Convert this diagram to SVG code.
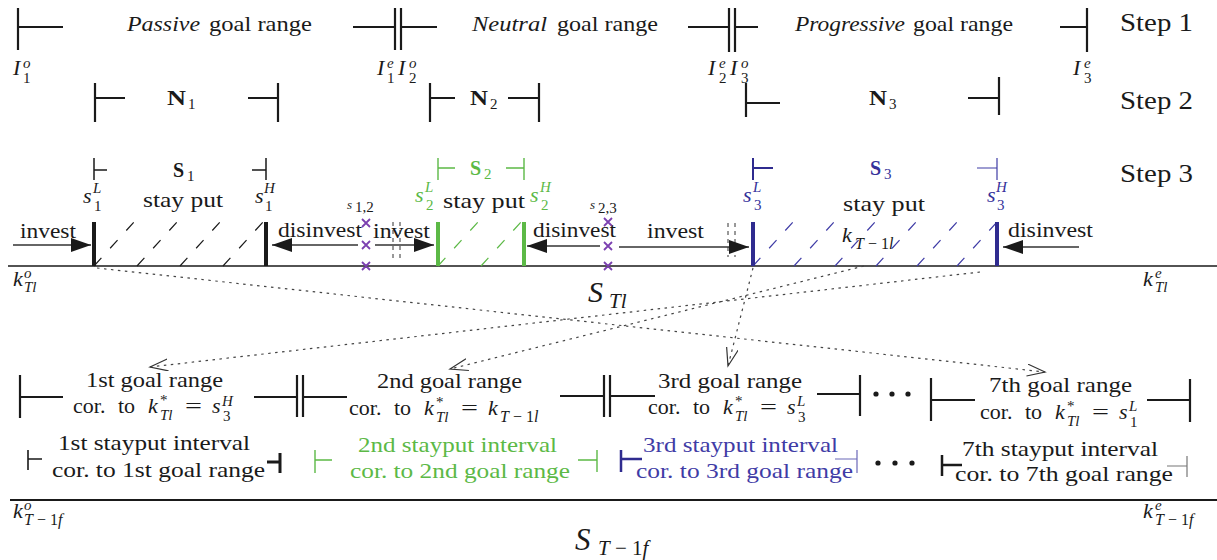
<svg xmlns="http://www.w3.org/2000/svg" width="1217" height="560" viewBox="0 0 1217 560" font-family="Liberation Serif">
<defs>
<style>
.lbl { font-family:"Liberation Serif", serif; font-size:22px; fill:#1a1a1a; }
.stp { font-family:"Liberation Serif", serif; font-size:26px; fill:#1a1a1a; }
.mi { font-style:italic; }
.scr { font-family:"Liberation Serif", serif; font-size:15px; }
.bld { font-family:"Liberation Serif", serif; font-weight:bold; font-size:20px; }
.grn { fill:#5cb946; }
.blu { fill:#35319a; }
.blt { fill:#3f3ca6; }
.brk { stroke:#1a1a1a; stroke-width:2.2; fill:none; }
.thin { stroke:#1a1a1a; stroke-width:1.5; fill:none; }
.brg { stroke:#5cb946; stroke-width:1.4; fill:none; }
.brb { stroke:#2f2b8f; stroke-width:2; fill:none; }
.bar { stroke-width:4; }
.hk { stroke:#1a1a1a; stroke-width:1.2; stroke-dasharray:11 13; }
.hg { stroke:#5cb946; stroke-width:1.2; stroke-dasharray:11 13; }
.hb { stroke:#3f3ca6; stroke-width:1.2; stroke-dasharray:11 13; }
.arr { stroke:#333; stroke-width:1.3; fill:none; marker-end:url(#ah); }
.dot { stroke:#444; stroke-width:1.2; stroke-dasharray:2.5 4.5; fill:none; marker-end:url(#oh); }
.xm { stroke:#7b40b0; stroke-width:1.8; }
.dbox { stroke:#333; stroke-width:1; stroke-dasharray:4 4; }
</style>
<marker id="ah" markerUnits="userSpaceOnUse" markerWidth="22" markerHeight="16" refX="20" refY="7" orient="auto"><path d="M0,0 L20,7 L0,14 z" fill="#1a1a1a"/></marker>
<marker id="oh" markerUnits="userSpaceOnUse" markerWidth="20" markerHeight="14" refX="18" refY="6" orient="auto"><path d="M0,0 L18,6 L0,12" fill="none" stroke="#333" stroke-width="1.2"/></marker>
</defs>

<g font-family="Liberation Serif" fill="#1a1a1a">
<!-- Step 1 -->
<g id="step1">
<path class="brk" d="M18,8 V50 M18,27 H63"/>
<text class="lbl mi" x="127" y="31" textLength="73" lengthAdjust="spacingAndGlyphs">Passive</text>
<text class="lbl" x="209" y="31" textLength="103" lengthAdjust="spacingAndGlyphs">goal range</text>
<path class="brk" d="M353,27 H395 M395,8 V50 M401,8 V50 M401,27 H437"/>
<text class="lbl mi" x="472" y="31" textLength="75" lengthAdjust="spacingAndGlyphs">Neutral</text>
<text class="lbl" x="557" y="31" textLength="101" lengthAdjust="spacingAndGlyphs">goal range</text>
<path class="brk" d="M688,27 H729 M729,8 V52 M735,8 V52 M735,27 H758"/>
<text class="lbl mi" x="795" y="31" textLength="110" lengthAdjust="spacingAndGlyphs">Progressive</text>
<text class="lbl" x="913" y="31" textLength="100" lengthAdjust="spacingAndGlyphs">goal range</text>
<path class="brk" d="M1060,27 H1087 M1087,8 V52"/>
<text class="lbl mi" x="13" y="75">I</text><text class="scr mi" x="23" y="68">o</text><text class="scr" x="23" y="83">1</text>
<text class="lbl mi" x="377" y="75">I</text><text class="scr mi" x="387" y="68">e</text><text class="scr" x="387" y="83">1</text>
<text class="lbl mi" x="398" y="75">I</text><text class="scr mi" x="409" y="68">o</text><text class="scr" x="409" y="83">2</text>
<text class="lbl mi" x="708" y="75">I</text><text class="scr mi" x="719" y="68">e</text><text class="scr" x="719" y="83">2</text>
<text class="lbl mi" x="730" y="75">I</text><text class="scr mi" x="741" y="68">o</text><text class="scr" x="741" y="83">3</text>
<text class="lbl mi" x="1073" y="75">I</text><text class="scr mi" x="1084" y="68">e</text><text class="scr" x="1084" y="83">3</text>
<text class="stp" x="1120" y="31" textLength="73" lengthAdjust="spacingAndGlyphs">Step 1</text>
</g>

<!-- Step 2 -->
<g id="step2">
<path class="brk" d="M95,83 V122 M95,98 H125 M248,98 H278 M278,83 V122"/>
<text class="bld" x="167" y="105" textLength="19" lengthAdjust="spacingAndGlyphs">N</text><text class="scr" x="188" y="109">1</text>
<path class="brk" d="M430,83 V122 M430,98 H455 M508,98 H539 M539,83 V122"/>
<text class="bld" x="470" y="105" textLength="18" lengthAdjust="spacingAndGlyphs">N</text><text class="scr" x="490" y="109">2</text>
<path class="brk" d="M746,83 V117 M746,103 H780 M968,98 H999 M999,77 V115"/>
<text class="bld" x="869" y="105" textLength="18" lengthAdjust="spacingAndGlyphs">N</text><text class="scr" x="889" y="109">3</text>
<text class="stp" x="1120" y="109" textLength="73" lengthAdjust="spacingAndGlyphs">Step 2</text>
</g>

<!-- Step 3 -->
<g id="step3">
<path class="thin" d="M94,158 V180 M94,170 H107 M252,170 H266 M266,158 V180"/>
<text class="bld" x="173" y="177">S</text><text class="scr" x="187" y="181">1</text>
<text class="lbl mi" x="83" y="203">s</text><text class="scr mi" x="93" y="193">L</text><text class="scr" x="94" y="211">1</text>
<text class="lbl" x="143" y="207" textLength="80" lengthAdjust="spacingAndGlyphs">stay put</text>
<text class="lbl mi" x="255" y="203">s</text><text class="scr mi" x="264" y="193">H</text><text class="scr" x="265" y="211">1</text>

<path class="brg" d="M438,158 V180 M438,168 H455 M506,168 H524 M524,158 V180"/>
<text class="bld grn" x="470" y="175">S</text><text class="scr grn" x="484" y="179">2</text>
<text class="lbl mi grn" x="415" y="202">s</text><text class="scr mi grn" x="425" y="192">L</text><text class="scr grn" x="426" y="210">2</text>
<text class="lbl" x="443" y="208" textLength="82" lengthAdjust="spacingAndGlyphs">stay put</text>
<text class="lbl mi grn" x="530" y="202">s</text><text class="scr mi grn" x="540" y="192">H</text><text class="scr grn" x="541" y="210">2</text>

<path class="brb" d="M753,158 V180 M753,168 H773"/>
<path stroke="#3f3ca6" stroke-width="1.2" fill="none" d="M977,168 H997 M997,158 V180"/>
<text class="bld blu" x="870" y="175">S</text><text class="scr blu" x="884" y="179">3</text>
<text class="lbl mi blu" x="743" y="202">s</text><text class="scr mi blu" x="753" y="192">L</text><text class="scr blu" x="754" y="210">3</text>
<text class="lbl" x="843" y="211" textLength="82" lengthAdjust="spacingAndGlyphs">stay put</text>
<text class="lbl mi blu" x="987" y="202">s</text><text class="scr mi blu" x="996" y="192">H</text><text class="scr blu" x="997" y="210">3</text>
<text class="stp" x="1120" y="182" textLength="73" lengthAdjust="spacingAndGlyphs">Step 3</text>
</g>

<!-- S_Tl axis -->
<g id="axisTl">
<line x1="8" y1="266" x2="1217" y2="266" stroke="#1a1a1a" stroke-width="1.4"/>
<path class="hk" d="M94,266 L134,222 M137,266 L177,222 M180,266 L220,222 M223,266 L263,222"/>
<path class="hg" d="M438,266 L478,222 M481,266 L521,222"/>
<path class="hb" d="M753,266 L793,222 M794,266 L834,222 M835,266 L875,222 M876,266 L916,222 M917,266 L957,222 M957,266 L997,222"/>
<line x1="94" y1="222" x2="94" y2="266" stroke="#1a1a1a" class="bar"/>
<line x1="266" y1="222" x2="266" y2="266" stroke="#1a1a1a" class="bar"/>
<line x1="438" y1="222" x2="438" y2="266" stroke="#5cb946" class="bar"/>
<line x1="524" y1="222" x2="524" y2="266" stroke="#5cb946" class="bar"/>
<line x1="753" y1="222" x2="753" y2="266" stroke="#2f2b8f" class="bar"/>
<line x1="997" y1="222" x2="997" y2="266" stroke="#2f2b8f" class="bar"/>
<path class="dbox" d="M393,222 V258 M400,222 V258 M728,223 V257 M735,223 V257"/>
<path class="xm" d="M362,219 l8,8 m0,-8 l-8,8 M362,241 l8,8 m0,-8 l-8,8 M362,262 l8,8 m0,-8 l-8,8 M604,218 l8,8 m0,-8 l-8,8 M604,242 l8,8 m0,-8 l-8,8 M604,262 l8,8 m0,-8 l-8,8"/>
<text font-style="italic" font-size="13" x="347" y="209">s</text><text font-size="15" x="355" y="212">1,2</text>
<text font-style="italic" font-size="13" x="590" y="209">s</text><text font-size="15" x="598" y="213">2,3</text>
<text class="lbl" x="20" y="238" textLength="56" lengthAdjust="spacingAndGlyphs">invest</text>
<text class="lbl" x="278" y="237" textLength="84" lengthAdjust="spacingAndGlyphs">disinvest</text>
<text class="lbl" x="373" y="238" textLength="57" lengthAdjust="spacingAndGlyphs">invest</text>
<text class="lbl" x="533" y="237" textLength="83" lengthAdjust="spacingAndGlyphs">disinvest</text>
<text class="lbl" x="647" y="238" textLength="57" lengthAdjust="spacingAndGlyphs">invest</text>
<text class="lbl" x="1008" y="237" textLength="85" lengthAdjust="spacingAndGlyphs">disinvest</text>
<text class="lbl mi" x="842" y="242">k</text><text font-size="16" x="855" y="249"><tspan font-style="italic">T</tspan> − 1<tspan font-style="italic">l</tspan></text>
<text class="lbl mi" x="13" y="286">k</text><text class="scr mi" x="24" y="278">o</text><text class="scr mi" x="24" y="292">Tl</text>
<text class="lbl mi" x="1143" y="286">k</text><text class="scr mi" x="1155" y="278">e</text><text class="scr mi" x="1155" y="292">Tl</text>
<text font-style="italic" font-size="30" x="588" y="302">S</text><text font-style="italic" font-size="21" x="609" y="308">Tl</text>
</g>

<!-- goal ranges -->
<g id="goal1">
<path class="brk" d="M20,375 V418 M20,397 H63 M254,397 H297 M297,375 V417"/>
<text class="lbl" x="86" y="387" textLength="137" lengthAdjust="spacingAndGlyphs">1st goal range</text>
<text class="lbl" x="73" y="413">cor.</text><text class="lbl" x="118" y="413">to</text>
<text class="lbl mi" x="148" y="413">k</text><text class="scr" x="160" y="405">*</text><text class="scr mi" x="160" y="420">Tl</text>
<text class="lbl" x="185" y="413" textLength="17" lengthAdjust="spacingAndGlyphs">=</text>
<text class="lbl mi" x="212" y="413">s</text><text class="scr mi" x="222" y="406">H</text><text class="scr" x="223" y="421">3</text>
</g>
<g id="goal2">
<path class="brk" d="M303,375 V417 M303,397 H347 M560,396 H604 M604,375 V417"/>
<text class="lbl" x="377" y="388" textLength="145" lengthAdjust="spacingAndGlyphs">2nd goal range</text>
<text class="lbl" x="349" y="415">cor.</text><text class="lbl" x="394" y="415">to</text>
<text class="lbl mi" x="424" y="415">k</text><text class="scr" x="436" y="407">*</text><text class="scr mi" x="436" y="422">Tl</text>
<text class="lbl" x="461" y="415" textLength="17" lengthAdjust="spacingAndGlyphs">=</text>
<text class="lbl mi" x="488" y="415">k</text><text font-size="16" x="500" y="422"><tspan font-style="italic">T</tspan> − 1<tspan font-style="italic">l</tspan></text>
</g>
<g id="goal3">
<path class="brk" d="M610,375 V417 M610,396 H655 M817,394 H860 M860,375 V416"/>
<text class="lbl" x="658" y="388" textLength="144" lengthAdjust="spacingAndGlyphs">3rd goal range</text>
<text class="lbl" x="648" y="414">cor.</text><text class="lbl" x="693" y="414">to</text>
<text class="lbl mi" x="723" y="414">k</text><text class="scr" x="735" y="406">*</text><text class="scr mi" x="735" y="421">Tl</text>
<text class="lbl" x="760" y="414" textLength="17" lengthAdjust="spacingAndGlyphs">=</text>
<text class="lbl mi" x="787" y="414">s</text><text class="scr mi" x="797" y="406">L</text><text class="scr" x="798" y="422">3</text>
</g>
<g id="dots1" fill="#1a1a1a">
<circle cx="876" cy="394" r="2.6"/><circle cx="892" cy="394" r="2.6"/><circle cx="908" cy="394" r="2.6"/>
</g>
<g id="goal7">
<path class="brk" d="M931,378 V421 M931,400 H975 M1147,400 H1190 M1190,379 V422"/>
<text class="lbl" x="989" y="392" textLength="143" lengthAdjust="spacingAndGlyphs">7th goal range</text>
<text class="lbl" x="980" y="419">cor.</text><text class="lbl" x="1025" y="419">to</text>
<text class="lbl mi" x="1055" y="419">k</text><text class="scr" x="1067" y="411">*</text><text class="scr mi" x="1067" y="426">Tl</text>
<text class="lbl" x="1092" y="419" textLength="17" lengthAdjust="spacingAndGlyphs">=</text>
<text class="lbl mi" x="1119" y="419">s</text><text class="scr mi" x="1129" y="411">L</text><text class="scr" x="1130" y="427">1</text>
</g>

<!-- stayput intervals -->
<g id="stay1">
<path stroke="#1a1a1a" stroke-width="1.6" fill="none" d="M28,450 V470 M28,459 H42"/>
<path stroke="#1a1a1a" stroke-width="3" fill="none" d="M267,462 H280 M280,453 V473"/>
<text class="lbl" x="58" y="450" textLength="192" lengthAdjust="spacingAndGlyphs">1st stayput interval</text>
<text class="lbl" x="52" y="477" textLength="213" lengthAdjust="spacingAndGlyphs">cor. to 1st goal range</text>
</g>
<g id="stay2">
<path class="brg" d="M315,450 V473 M315,460 H332 M578,460 H597 M597,450 V472"/>
<text class="lbl grn" x="358" y="452" textLength="199" lengthAdjust="spacingAndGlyphs">2nd stayput interval</text>
<text class="lbl grn" x="350" y="478" textLength="220" lengthAdjust="spacingAndGlyphs">cor. to 2nd goal range</text>
</g>
<g id="stay3">
<path stroke="#2f2b8f" stroke-width="2.5" fill="none" d="M621,450 V472 M621,459 H642"/>
<path stroke="#6b68b8" stroke-width="1.2" fill="none" d="M835,459 H857 M857,450 V473"/>
<text class="lbl blt" x="643" y="452" textLength="195" lengthAdjust="spacingAndGlyphs">3rd stayput interval</text>
<text class="lbl blt" x="636" y="478" textLength="217" lengthAdjust="spacingAndGlyphs">cor. to 3rd goal range</text>
</g>
<g id="dots2" fill="#1a1a1a">
<circle cx="878" cy="463" r="2.6"/><circle cx="895" cy="463" r="2.6"/><circle cx="912" cy="463" r="2.6"/>
</g>
<g id="stay7">
<path stroke="#1a1a1a" stroke-width="2.5" fill="none" d="M942,455 V476 M942,465 H962"/>
<path stroke="#777" stroke-width="1.2" fill="none" d="M1167,466 H1187 M1187,456 V477"/>
<text class="lbl" x="962" y="456" textLength="196" lengthAdjust="spacingAndGlyphs">7th stayput interval</text>
<text class="lbl" x="955" y="481" textLength="218" lengthAdjust="spacingAndGlyphs">cor. to 7th goal range</text>
</g>

<!-- S_T-1f axis -->
<g id="axisT1f">
<line x1="10" y1="500" x2="1217" y2="500" stroke="#1a1a1a" stroke-width="2"/>
<text class="lbl mi" x="13" y="518">k</text><text class="scr mi" x="24" y="510">o</text><text font-size="16" x="24" y="525"><tspan font-style="italic">T</tspan> − 1<tspan font-style="italic">f</tspan></text>
<text class="lbl mi" x="1143" y="518">k</text><text class="scr mi" x="1155" y="510">e</text><text font-size="16" x="1155" y="525"><tspan font-style="italic">T</tspan> − 1<tspan font-style="italic">f</tspan></text>
<text font-style="italic" font-size="31" x="575" y="550">S</text><text font-size="21" x="598" y="555"><tspan font-style="italic">T</tspan> − 1<tspan font-style="italic">f</tspan></text>
</g>
</g>

<!-- connectors -->
<g id="connectors">
<line class="arr" x1="13" y1="245" x2="91" y2="245"/>
<line class="arr" x1="358" y1="245" x2="272" y2="245"/>
<line class="arr" x1="375" y1="245" x2="434" y2="245"/>
<line class="arr" x1="600" y1="246" x2="527" y2="246"/>
<line class="arr" x1="619" y1="247" x2="749" y2="247"/>
<line class="arr" x1="1079" y1="247" x2="1003" y2="247"/>
<line class="dot" x1="97" y1="268" x2="1045" y2="372"/>
<line class="dot" x1="980" y1="272" x2="150" y2="367"/>
<line class="dot" x1="864" y1="266" x2="450" y2="369"/>
<line class="dot" x1="753" y1="268" x2="728" y2="366"/>
</g>
</svg>
